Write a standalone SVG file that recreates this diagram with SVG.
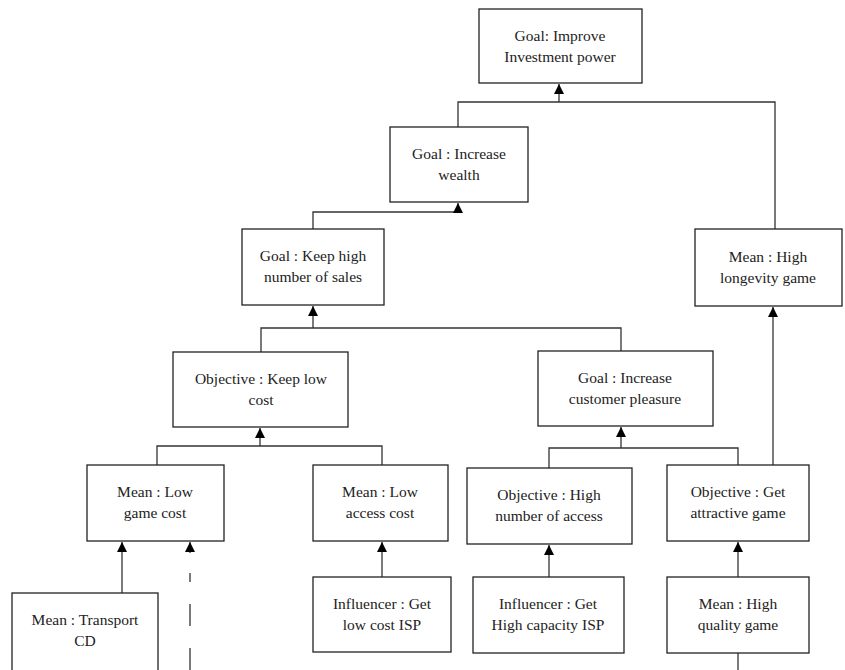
<svg xmlns="http://www.w3.org/2000/svg" width="845" height="670" viewBox="0 0 845 670">
<style>
.box{fill:#fff;stroke:#222;stroke-width:1.3}
.t{font-family:'Liberation Serif','Times New Roman','DejaVu Serif',serif;font-size:15.5px;fill:#222;text-anchor:middle}
.ln{fill:none;stroke:#333;stroke-width:1.3}
.dash{stroke-dasharray:22 22}
</style>
<defs>
<marker id="ah" markerWidth="10" markerHeight="10" refX="10" refY="5" orient="auto" markerUnits="userSpaceOnUse">
<path d="M0,0 L10,5 L0,10 Z" fill="#000"/>
</marker>
</defs>
<rect width="845" height="670" fill="#fff"/>
<g id="connectors">
<path class="ln" d="M775,229 V102 H458 V127"/>
<path class="ln" d="M559,102 V84" marker-end="url(#ah)"/>
<path class="ln" d="M313,229 V212 H458"/>
<path class="ln" d="M458,212 V203" marker-end="url(#ah)"/>
<path class="ln" d="M261,352 V328 H621 V351"/>
<path class="ln" d="M313,328 V306" marker-end="url(#ah)"/>
<path class="ln" d="M157,465 V446 H382 V465"/>
<path class="ln" d="M260,446 V428" marker-end="url(#ah)"/>
<path class="ln" d="M549,468 V448 H738 V465"/>
<path class="ln" d="M621,448 V427" marker-end="url(#ah)"/>
<path class="ln" d="M773,465 V307" marker-end="url(#ah)"/>
<path class="ln" d="M122,593 V542" marker-end="url(#ah)"/>
<path class="ln dash" d="M190,670 V573"/>
<path class="ln" d="M190,553 V542" marker-end="url(#ah)"/>
<path class="ln" d="M382,577 V542" marker-end="url(#ah)"/>
<path class="ln" d="M549,577 V545" marker-end="url(#ah)"/>
<path class="ln" d="M738,577 V542" marker-end="url(#ah)"/>
<path class="ln" d="M738,653 V670"/>
</g>
<g id="n1"><rect class="box" x="479" y="9" width="163" height="74"/><text class="t" x="560" y="41">Goal: Improve</text><text class="t" x="560" y="62">Investment power</text></g>
<g id="n2"><rect class="box" x="390" y="127" width="138" height="75"/><text class="t" x="459" y="159">Goal : Increase</text><text class="t" x="459" y="180">wealth</text></g>
<g id="n3"><rect class="box" x="242" y="229" width="142" height="76"/><text class="t" x="313" y="261">Goal : Keep high</text><text class="t" x="313" y="282">number of sales</text></g>
<g id="n4"><rect class="box" x="695" y="229" width="147" height="77"/><text class="t" x="768" y="262">Mean : High</text><text class="t" x="768" y="283">longevity game</text></g>
<g id="n5"><rect class="box" x="173" y="352" width="175" height="75"/><text class="t" x="261" y="384">Objective : Keep low</text><text class="t" x="261" y="405">cost</text></g>
<g id="n6"><rect class="box" x="538" y="351" width="175" height="75"/><text class="t" x="625" y="383">Goal : Increase</text><text class="t" x="625" y="404">customer pleasure</text></g>
<g id="n7"><rect class="box" x="87" y="465" width="137" height="76"/><text class="t" x="155" y="497">Mean : Low</text><text class="t" x="155" y="518">game cost</text></g>
<g id="n8"><rect class="box" x="313" y="465" width="135" height="76"/><text class="t" x="380" y="497">Mean : Low</text><text class="t" x="380" y="518">access cost</text></g>
<g id="n9"><rect class="box" x="467" y="468" width="165" height="76"/><text class="t" x="549" y="500">Objective : High</text><text class="t" x="549" y="521">number of access</text></g>
<g id="n10"><rect class="box" x="667" y="465" width="142" height="76"/><text class="t" x="738" y="497">Objective : Get</text><text class="t" x="738" y="518">attractive game</text></g>
<g id="n11"><rect class="box" x="12" y="593" width="146" height="90"/><text class="t" x="85" y="625">Mean : Transport</text><text class="t" x="85" y="646">CD</text></g>
<g id="n12"><rect class="box" x="313" y="577" width="138" height="75"/><text class="t" x="382" y="609">Influencer : Get</text><text class="t" x="382" y="630">low cost ISP</text></g>
<g id="n13"><rect class="box" x="473" y="577" width="151" height="76"/><text class="t" x="548" y="609">Influencer : Get</text><text class="t" x="548" y="630">High capacity ISP</text></g>
<g id="n14"><rect class="box" x="667" y="577" width="142" height="76"/><text class="t" x="738" y="609">Mean : High</text><text class="t" x="738" y="630">quality game</text></g>
</svg>
